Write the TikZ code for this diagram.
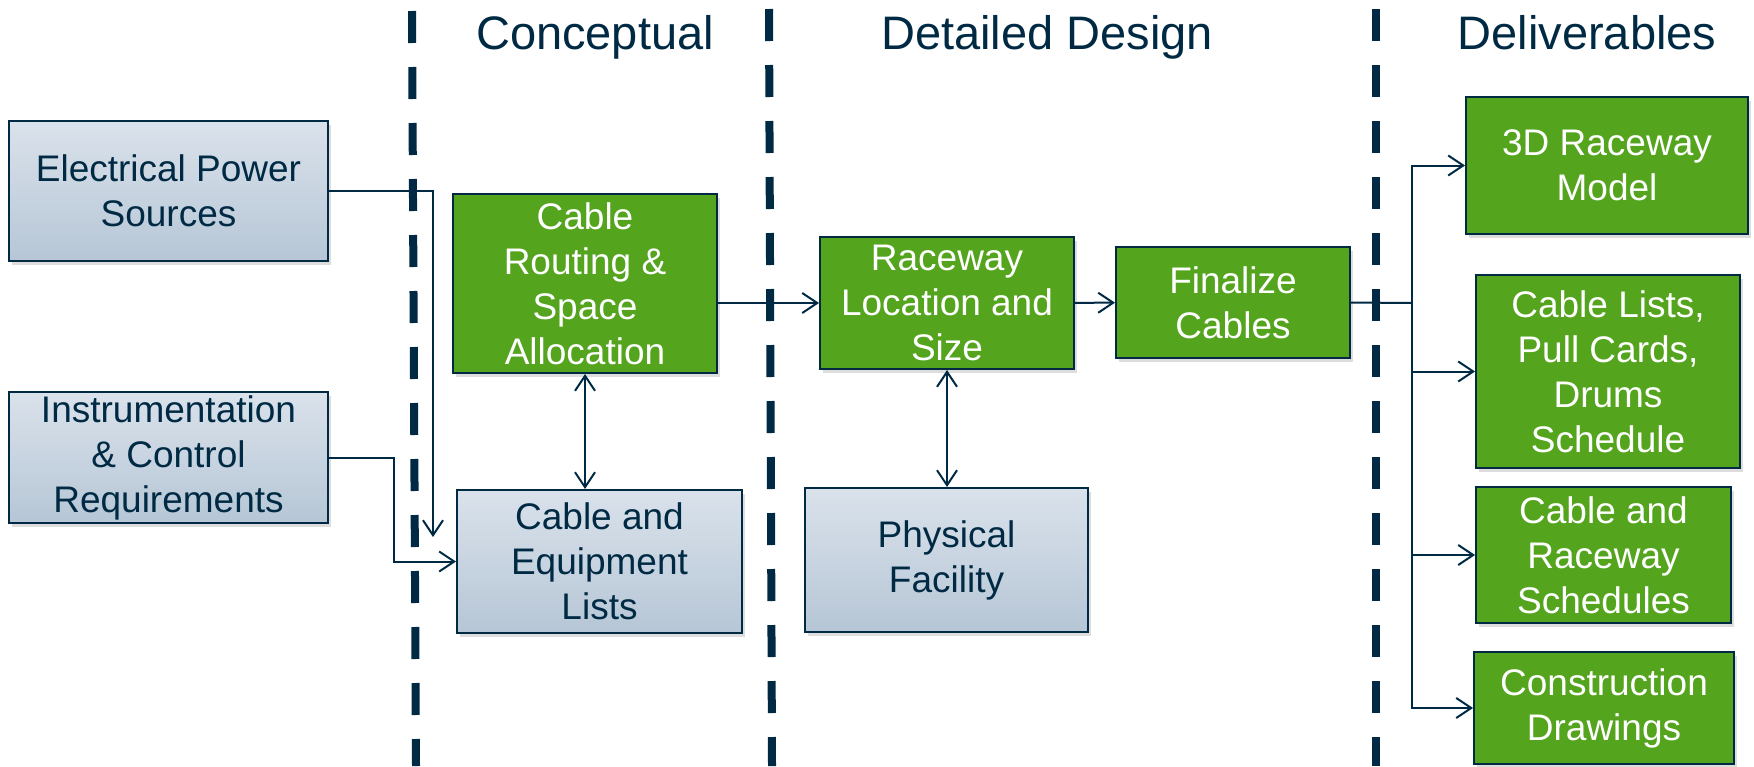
\documentclass[tikz,border=0pt]{standalone}
\usepackage{fontspec}
\setmainfont{Liberation Sans}
\usetikzlibrary{arrows.meta,positioning,shadows}
\definecolor{navy}{RGB}{0,42,68}
\definecolor{leaf}{RGB}{84,164,30}
\definecolor{mistTop}{RGB}{218,226,235}
\definecolor{mistBot}{RGB}{182,198,214}

\begin{document}
\begin{tikzpicture}[x=0.5pt,y=-0.5pt,
        every node/.style={font=\fontsize{18.5}{22.5}\selectfont,align=center,inner sep=0pt},
        box/.style={draw=navy,line width=1pt,
            drop shadow={shadow xshift=1.5pt,shadow yshift=-2pt,opacity=0.22,fill=black!60}},
        lite/.style={box,top color=mistTop,bottom color=mistBot,text=navy},
        leafbox/.style={box,fill=leaf,text=white},
        head/.style={font=\fontsize{23.5}{28}\selectfont,text=navy,anchor=base},
        conn/.style={navy,line width=1pt},
        divider/.style={navy,line width=4pt,dash pattern=on 16pt off 12pt},
        >={Straight Barb[length=7.5pt,width=10pt]}]
    \useasboundingbox (0,0) rectangle (1754,766);

    \node[lite,minimum width=159.5pt,minimum height=70pt] (eps) at (168.5,191) {Electrical Power\\Sources};
    \node[lite,minimum width=159.5pt,minimum height=65.5pt] (icr) at (168.5,457.5) {Instrumentation\\\& Control\\Requirements};
    \node[leafbox,minimum width=132pt,minimum height=89.5pt] (crsa) at (585,283.5) {Cable\\Routing \&\\Space\\Allocation};
    \node[lite,minimum width=142.5pt,minimum height=71.5pt] (cel) at (599.5,561.5) {Cable and\\Equipment\\Lists};
    \node[leafbox,minimum width=127pt,minimum height=66pt] (rls) at (947,303) {Raceway\\Location and\\Size};
    \node[lite,minimum width=141.5pt,minimum height=72pt] (pf) at (946.5,560) {Physical\\Facility};
    \node[leafbox,minimum width=117pt,minimum height=55.5pt] (fc) at (1233,302.5) {Finalize\\Cables};
    \node[leafbox,minimum width=141pt,minimum height=68.5pt] (rm) at (1607,165.5) {3D Raceway\\Model};
    \node[leafbox,minimum width=132pt,minimum height=96.5pt] (clp) at (1608,371.5) {Cable Lists,\\Pull Cards,\\Drums\\Schedule};
    \node[leafbox,minimum width=127.5pt,minimum height=68pt] (crs) at (1603.5,555) {Cable and\\Raceway\\Schedules};
    \node[leafbox,minimum width=130pt,minimum height=56pt] (cd) at (1604,708) {Construction\\Drawings};

    \coordinate (eje) at (433,537);
    \coordinate (hub) at (1412,303);

    \draw[conn,->] (eps.east) -| (eje);
    \draw[conn,->] (icr.east) -- ++(65,0) |- (cel.west);
    \draw[conn,<->] (crsa.south) -- (crsa.south |- cel.north);
    \draw[conn,->] (crsa.east |- rls.west) -- (rls.west);
    \draw[conn,<->] (rls.south) -- (rls.south |- pf.north);
    \path[conn,->] (rls) edge (fc);
    \draw[conn] (fc.east) -- (hub);
    \draw[conn,->] (hub) |- (rm.west);
    \draw[conn,->] (hub) |- (clp.west);
    \draw[conn,->] (hub) |- (crs.west);
    \draw[conn,->] (hub) |- (cd.west);

    \draw[divider] (412,11) -- (416,766);
    \draw[divider] (769,9) -- (772,766);
    \draw[divider] (1376,9) -- (1376,766);

    \node[head] (h1) at (595,49) {Conceptual};
    \node[head] (h2) at (1047,49) {Detailed Design};
    \node[head] (h3) at (1587,49) {Deliverables};
\end{tikzpicture}
\end{document}
